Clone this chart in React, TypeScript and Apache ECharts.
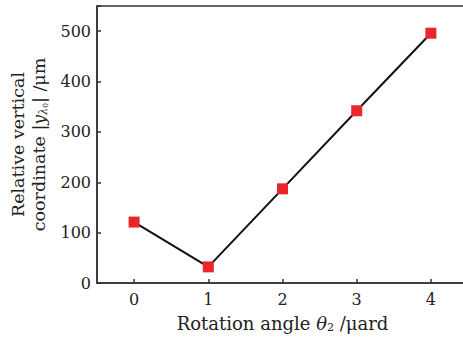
import React, { useEffect, useRef } from "react";
import * as echarts from "echarts";

const angles = [0, 1, 2, 3, 4];
const coords = [121, 32, 187, 342, 496];
const xTicks = [0, 1, 2, 3, 4];

const FONT = "'DejaVu Serif', 'Liberation Serif', serif";

export default function App() {
  const ref = useRef<HTMLDivElement>(null);
  useEffect(() => {
    const chart = echarts.init(ref.current!, null, { renderer: "svg" });
    chart.setOption({
      animation: false,
      backgroundColor: "#fff",
      grid: { left: 97, top: 6, right: -5, bottom: 57, outerBoundsMode: "none", containLabel: false },
      xAxis: {
        type: "value",
        min: -0.5,
        max: 4.5,
        interval: 0.5,
        name: "Rotation angle {i|θ}{s|2} /μard",
        nameLocation: "middle",
        nameGap: 30,
        nameTextStyle: {
          fontFamily: FONT,
          fontSize: 18,
          color: "#222",
          rich: {
            i: { fontFamily: FONT, fontSize: 18, fontStyle: "italic", color: "#222" },
            s: { fontFamily: FONT, fontSize: 11, color: "#222", padding: [9, 0, 0, 0] },
          },
        },
        axisLine: { show: true, onZero: false, lineStyle: { color: "#333", width: 1.5 } },
        axisTick: {
          show: true,
          inside: true,
          length: 4,
          lineStyle: { color: "#333", width: 1.5 },
          customValues: xTicks,
        },
        axisLabel: {
          fontFamily: FONT,
          fontSize: 16,
          color: "#222",
          margin: 8,
          customValues: xTicks,
          formatter: (v: number) => String(v),
        },
        splitLine: { show: false },
      },
      yAxis: {
        type: "value",
        min: 0,
        max: 550,
        interval: 100,
        name: "Relative vertical\ncoordinate |{i|y}{s|λ}{ss|0}| /μm",
        nameLocation: "middle",
        nameRotate: 90,
        nameGap: 44,
        nameTextStyle: {
          fontFamily: FONT,
          fontSize: 17.5,
          color: "#222",
          lineHeight: 21,
          rich: {
            i: { fontFamily: FONT, fontSize: 17.5, fontStyle: "italic", color: "#222", lineHeight: 21 },
            s: { fontFamily: FONT, fontSize: 11, fontStyle: "italic", color: "#222", padding: [8, 0, 0, 0] },
            ss: { fontFamily: FONT, fontSize: 7.5, color: "#222", padding: [13, 0, 0, 0] },
          },
        },
        axisLine: { show: true, onZero: false, lineStyle: { color: "#333", width: 1.5 } },
        axisTick: { show: true, inside: true, length: 4, lineStyle: { color: "#333", width: 1.5 } },
        axisLabel: {
          fontFamily: FONT,
          fontSize: 16,
          color: "#222",
          margin: 6,
          formatter: (v: number) => (v > 500 ? "" : String(v)),
        },
        splitLine: { show: false },
      },
      graphic: [
        {
          type: "rect",
          shape: { x: 97, y: 6, width: 380, height: 277 },
          style: { fill: "none", stroke: "#333", lineWidth: 1.5 },
          silent: true,
        },
      ],
      series: [
        {
          type: "line",
          data: angles.map((a, i) => [a, coords[i]]),
          symbol: "rect",
          symbolSize: 11,
          itemStyle: { color: "#e8262b" },
          lineStyle: { color: "#111", width: 2 },
          z: 3,
        },
      ],
    });
    return () => chart.dispose();
  }, []);
  return (
    <div
      ref={ref}
      style={{ position: "absolute", left: 0, top: 0, width: 463, height: 340 }}
    />
  );
}
